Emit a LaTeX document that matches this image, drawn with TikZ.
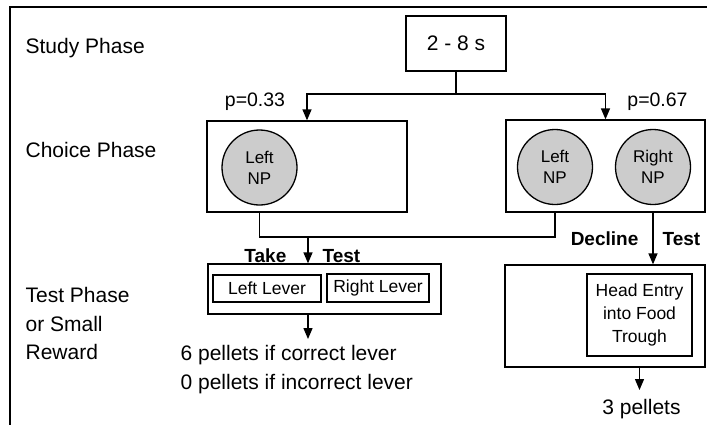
\documentclass[tikz,border=0pt]{standalone}
\usepackage{fontspec}
\setmainfont{Liberation Sans}
\usetikzlibrary{arrows.meta}

\begin{document}
\begin{tikzpicture}[x=1pt, y=-1pt, line width=1.3pt]
\tikzset{box/.style = {shape=rectangle, draw, inner sep=0pt, align=center}}
\tikzset{np/.style = {shape=circle, draw, fill=gray!40, minimum size=75pt, inner sep=0pt, align=center, font=\fontsize{17}{21}\selectfont}}
\tikzset{phase/.style = {anchor=west, inner sep=0pt, align=left, font=\fontsize{21}{28.5}\selectfont}}
\tikzset{word/.style = {inner sep=0pt, font=\fontsize{19}{21}\selectfont\bfseries}}
\tikzset{small/.style = {inner sep=0pt, font=\fontsize{19.5}{21}\selectfont}}
\tikzset{arr/.style = {-{Triangle[width=9pt,length=11pt]}}}
\useasboundingbox (0,0) rectangle (707,424);

% frame and phase names
\draw (10,430) -- (10,7) -- (712,7);
\node[phase] (study) at (25,48) {Study Phase};
\node[phase] (choice) at (25,150) {Choice Phase};
\node[phase] (testph) at (25,323.5) {Test Phase\\or Small\\Reward};

% study phase
\node[box, minimum width=100pt, minimum height=55pt, font=\fontsize{21}{24}\selectfont] (delay) at (456,43.5) {2 - 8 s};
\coordinate (split) at (458,94);

% choice phase
\node[box, minimum width=200pt, minimum height=91pt] (boxL) at (307,166.5) {};
\node[box, minimum width=199pt, minimum height=92pt] (boxR) at (605.5,166) {};
\node[np] (npL1) at (259.5,167.5) {Left\\NP};
\node[np] (npL2) at (555,167) {Left\\NP};
\node[np] (npR2) at (653,167) {Right\\NP};
\node[small] (pL) at (255,102) {p=0.33};
\node[small] (pR) at (657.5,102) {p=0.67};

% test phase
\coordinate (merge) at (308,237);
\node[box, minimum width=233pt, minimum height=50pt] (testbox) at (324.5,289) {};
\node[box, minimum width=108pt, minimum height=27pt, font=\fontsize{17.5}{20}\selectfont] (leverL) at (267,288.5) {Left Lever};
\node[box, minimum width=102pt, minimum height=28pt, font=\fontsize{17.5}{20}\selectfont] (leverR) at (378,288) {Right Lever};
\node[word, anchor=east] (take) at (287,256) {Take};
\node[word, anchor=west] (testL) at (322,256) {Test};
\node[phase, anchor=base west] (reward6) at (180,389) {6 pellets if correct lever\\0 pellets if incorrect lever};
\coordinate (endL) at (308,339);

\node[box, minimum width=200pt, minimum height=102pt] (boxR2) at (605,316) {};
\node[box, minimum width=105pt, minimum height=82pt, font=\fontsize{17.5}{23}\selectfont] (head) at (639.5,315) {Head Entry\\into Food\\Trough};
\node[word, anchor=east] (decline) at (639,239) {Decline};
\node[word, anchor=west] (testR) at (662,239) {Test};
\node[phase, anchor=center] (reward3) at (641.5,409) {3 pellets};
\coordinate (endR) at (639.5,390);

% connectors
\draw (delay.south) -- (delay.south |- split);
\draw[arr] (split) -| (boxL.north);
\draw[arr] (split) -| (boxR.north);
\draw (npL1 |- boxL.south) |- (merge) -| (npL2 |- boxR.south);
\draw[arr] (merge) -- (merge |- testbox.north);
\draw[arr] (merge |- testbox.south) -- (endL);
\draw[arr] (npR2 |- boxR.south) -- (npR2 |- boxR2.north);
\draw[arr] (head |- boxR2.south) -- (endR);

\end{tikzpicture}
\end{document}
